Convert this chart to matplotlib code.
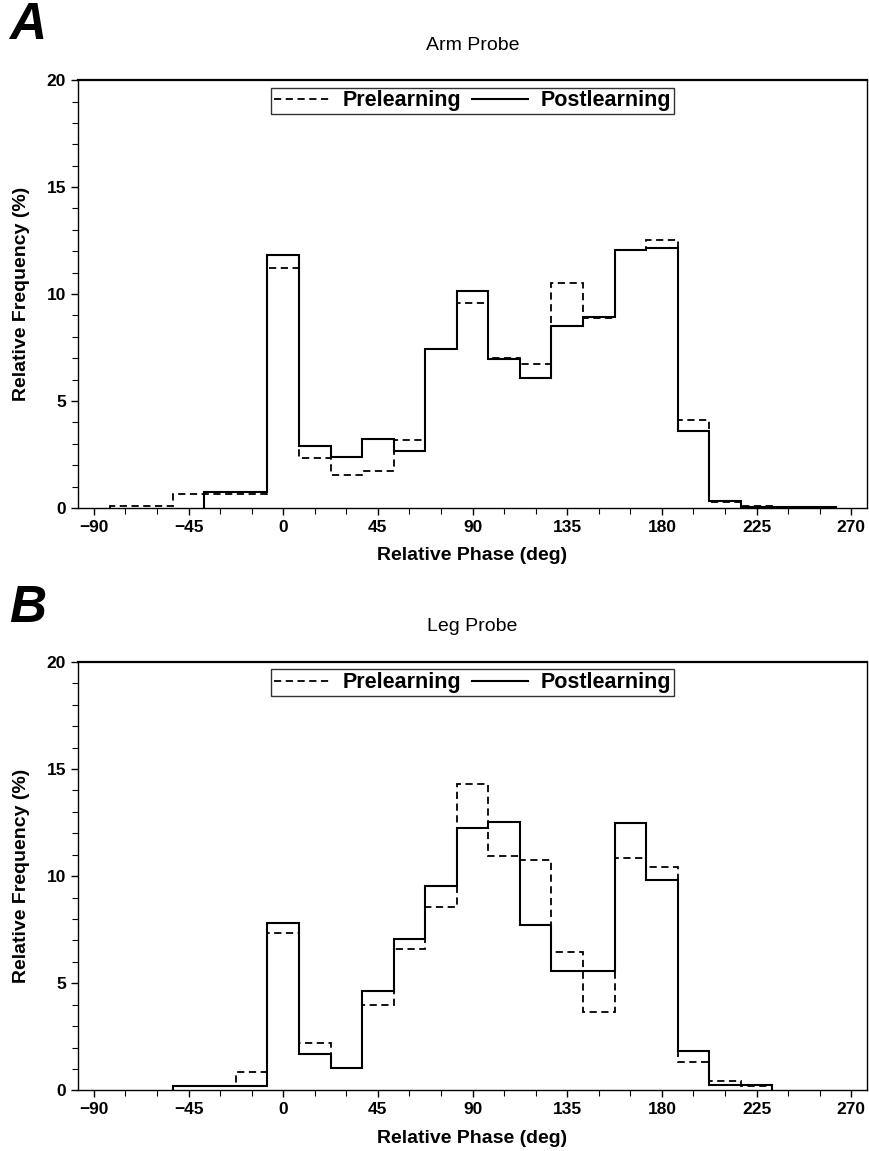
import matplotlib
matplotlib.use("Agg")
import matplotlib.pyplot as plt
from matplotlib.ticker import MultipleLocator
import numpy as np

plt.rcParams['font.family'] = ['Liberation Sans', 'DejaVu Sans']

# bin centres (deg), 15 deg wide bins
phase = [-90, -75, -60, -45, -30, -15, 0, 15, 30, 45, 60, 75,
         90, 105, 120, 135, 150, 165, 180, 195, 210, 225, 240, 255]

# panel A: arm probe
arm_pre = [0, 0.08, 0.08, 0.67, 0.67, 0.67, 11.2, 2.32, 1.53, 1.73, 3.18, 7.43,
           9.6, 7.0, 6.74, 10.51, 8.86, 12.04, 12.52, 4.1, 0.3, 0.1, 0.05, 0]
arm_post = [0, 0, 0, 0, 0.75, 0.75, 11.82, 2.9, 2.4, 3.25, 2.66, 7.43,
            10.14, 6.97, 6.1, 8.52, 8.94, 12.04, 12.16, 3.6, 0.35, 0.07, 0.07, 0.05]

# panel B: leg probe
leg_pre = [0, 0, 0, 0.2, 0.2, 0.88, 7.36, 2.2, 1.07, 4.0, 6.62, 8.56,
           14.3, 10.94, 10.75, 6.45, 3.64, 10.87, 10.44, 1.35, 0.46, 0.22, 0, 0]
leg_post = [0, 0, 0, 0.21, 0.21, 0.21, 7.82, 1.71, 1.04, 4.66, 7.09, 9.54,
            12.27, 12.53, 7.73, 5.56, 5.56, 12.47, 9.84, 1.86, 0.26, 0.26, 0, 0]

xticks = [-90, -45, 0, 45, 90, 135, 180, 225, 270]


def draw_hist(ax, vals, **kw):
    vals = np.asarray(vals, dtype=float)
    centres = np.asarray(phase, dtype=float)
    nz = np.nonzero(vals)[0]
    lo, hi = nz[0], nz[-1] + 1
    edges = np.append(centres[lo:hi] - 7.5, centres[hi - 1] + 7.5)
    ax.stairs(vals[lo:hi], edges, baseline=0, fill=False, color='black', **kw)


def panel(ax, pre, post, title, letter, letter_y):
    draw_hist(ax, pre, linewidth=1.3, linestyle=(0, (4, 2.5)), label='Prelearning')
    draw_hist(ax, post, linewidth=1.5, linestyle='-', label='Postlearning')
    ax.set_xlim(-97.5, 277.5)
    ax.set_ylim(0, 20)
    ax.set_xticks(xticks)
    ax.xaxis.set_minor_locator(MultipleLocator(15))
    ax.yaxis.set_major_locator(MultipleLocator(5))
    ax.yaxis.set_minor_locator(MultipleLocator(1))
    ax.tick_params(axis='both', which='major', direction='out', length=5, width=1,
                   labelsize=12.5)
    ax.tick_params(axis='both', which='minor', direction='out', length=4, width=0.8)
    for lab in ax.get_xticklabels() + ax.get_yticklabels():
        lab.set_fontweight('bold')
    for s in ax.spines.values():
        s.set_linewidth(1.0)
    ax.spines['top'].set_linewidth(1.6)
    ax.set_xlabel('Relative Phase (deg)', fontsize=14, fontweight='bold', labelpad=9)
    ax.set_ylabel('Relative Frequency (%)', fontsize=14, fontweight='bold', labelpad=12)
    ax.set_title(title, fontsize=14, pad=22)
    leg = ax.legend(loc='upper center', ncol=2, frameon=True, fancybox=False,
                    edgecolor='black', borderaxespad=0.35, handlelength=2.6,
                    columnspacing=0.5, handletextpad=0.6, borderpad=0.12,
                    prop={'size': 15.5, 'weight': 'bold'})
    leg.get_frame().set_linewidth(1.0)
    fig.text(0.010, letter_y, letter, fontsize=37, fontweight='bold',
             fontstyle='italic', va='top', ha='left')


fig = plt.figure(figsize=(8.69, 11.51), dpi=100)
ax1 = fig.add_axes([0.0898, 0.5586, 0.908, 0.3718])
ax2 = fig.add_axes([0.0898, 0.0526, 0.908, 0.3723])

panel(ax1, arm_pre, arm_post, 'Arm Probe', 'A', 0.999)
panel(ax2, leg_pre, leg_post, 'Leg Probe', 'B', 0.493)

fig.savefig('out.png', dpi=100)
